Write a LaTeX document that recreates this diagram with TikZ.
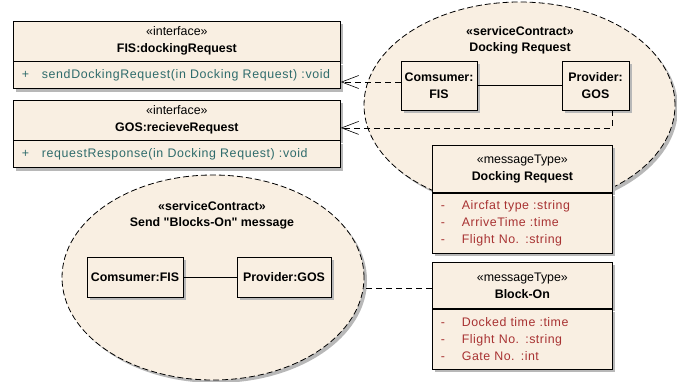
\documentclass[tikz,border=0pt]{standalone}
\usepackage{fontspec}
\setmainfont{Liberation Sans}
\usetikzlibrary{shapes.geometric,shadows,arrows.meta,positioning}

\definecolor{umlfill}{RGB}{249,239,226}
\definecolor{opcolor}{RGB}{46,107,107}
\definecolor{attrcolor}{RGB}{168,50,50}
\newcommand{\umlop}[1]{\makebox[20pt][l]{+}{\addfontfeature{LetterSpace=5}#1}}
\newcommand{\umlattr}[1]{\makebox[21pt][l]{-}{\addfontfeature{LetterSpace=4}#1}}

\begin{document}
\begin{tikzpicture}[x=1pt, y=-1pt,
		every node/.style={font=\fontsize{12.4}{17}\selectfont, inner sep=0pt},
		umlshadow/.style={drop shadow={shadow xshift=3pt, shadow yshift=-3pt, fill=black!28, opacity=1}},
		umlhead/.style={draw, fill=umlfill, line width=0.8pt, umlshadow, align=center, minimum height=40pt},
		umlbody/.style={draw, fill=umlfill, line width=0.8pt, umlshadow, align=left, anchor=north, inner xsep=8.5pt},
		contract/.style={ellipse, draw, fill=umlfill, line width=0.8pt, dash pattern=on 6pt off 3pt, umlshadow},
		part/.style={draw, fill=umlfill, line width=0.8pt, umlshadow, align=center, font=\fontsize{12.4}{17}\selectfont\bfseries},
		realize/.style={line width=0.6pt, dash pattern=on 6pt off 4pt, -{Straight Barb[length=17pt, width=13pt, line width=0.6pt]}}]
	\useasboundingbox (0,0) rectangle (677,381);
	% interfaces
	\node[umlhead, minimum width=327pt, anchor=north west] (fisHead) at (13,20.5) {«interface»\\\textbf{FIS:dockingRequest}};
	\node[umlbody, text width=310pt, minimum height=27pt] (fisBody) at (fisHead.south) {\color{opcolor}\umlop{sendDockingRequest(in Docking Request) :void}};
	\node[umlhead, minimum width=327pt, anchor=north west] (gosHead) at (13,99.5) {«interface»\\\textbf{GOS:recieveRequest}};
	\node[umlbody, text width=310pt, minimum height=27pt] (gosBody) at (gosHead.south) {\color{opcolor}\umlop{requestResponse(in Docking Request) :void}};
	% service contract: docking request
	\node[contract, minimum width=311pt, minimum height=206pt] (dockContract) at (519.5,105) {};
	\node[align=center, font=\fontsize{12.4}{16}\selectfont\bfseries] (dockTitle) at (520,40) {«serviceContract»\\Docking Request};
	\node[part, minimum width=76pt, minimum height=49pt] (dockConsumer) at (439,85.5) {Comsumer:\\FIS};
	\node[part, minimum width=67pt, minimum height=49pt] (dockProvider) at (595.5,85.5) {Provider:\\GOS};
	\draw[line width=0.8pt] (dockConsumer) -- (dockProvider);
	\draw[realize] ([yshift=3.5pt]dockConsumer.west) -- ([yshift=3.5pt]dockConsumer.west -| fisHead.east);
	\draw[realize] ([xshift=17pt]dockProvider.south) |- ([yshift=-8pt]gosHead.east);
	% message types
	\node[umlhead, minimum width=180pt, minimum height=47pt, anchor=north west] (dockHead) at (432,145) {«messageType»\\\textbf{Docking Request}};
	\node[umlbody, text width=163pt, minimum height=60pt] (dockBody) at (dockHead.south) {\color{attrcolor}\umlattr{Aircfat type :string}\\\umlattr{ArriveTime :time}\\\umlattr{Flight No. :string}};
	\node[umlhead, minimum width=180pt, minimum height=46pt, anchor=north west] (blockHead) at (432,262) {«messageType»\\\textbf{Block-On}};
	\node[umlbody, text width=163pt, minimum height=60pt] (blockBody) at (blockHead.south) {\color{attrcolor}\umlattr{Docked time :time}\\\umlattr{Flight No. :string}\\\umlattr{Gate No. :int}};
	% service contract: blocks-on
	\node[contract, minimum width=302pt, minimum height=205pt] (blockContract) at (213,277.5) {};
	\node[align=center, font=\fontsize{12.4}{16}\selectfont\bfseries] (blockTitle) at (212,215) {«serviceContract»\\Send \textquotedbl Blocks-On\textquotedbl{} message};
	\node[part, minimum width=96pt, minimum height=40pt] (blockConsumer) at (135,277) {Comsumer:FIS};
	\node[part, minimum width=94pt, minimum height=40pt] (blockProvider) at (284,277) {Provider:GOS};
	\draw[line width=0.8pt] (blockConsumer) -- (blockProvider);
	\draw[line width=0.6pt, dash pattern=on 6pt off 4pt] ([yshift=-3pt]blockHead.west) -- ([yshift=-3pt]blockHead.west -| blockContract.east);
\end{tikzpicture}
\end{document}
